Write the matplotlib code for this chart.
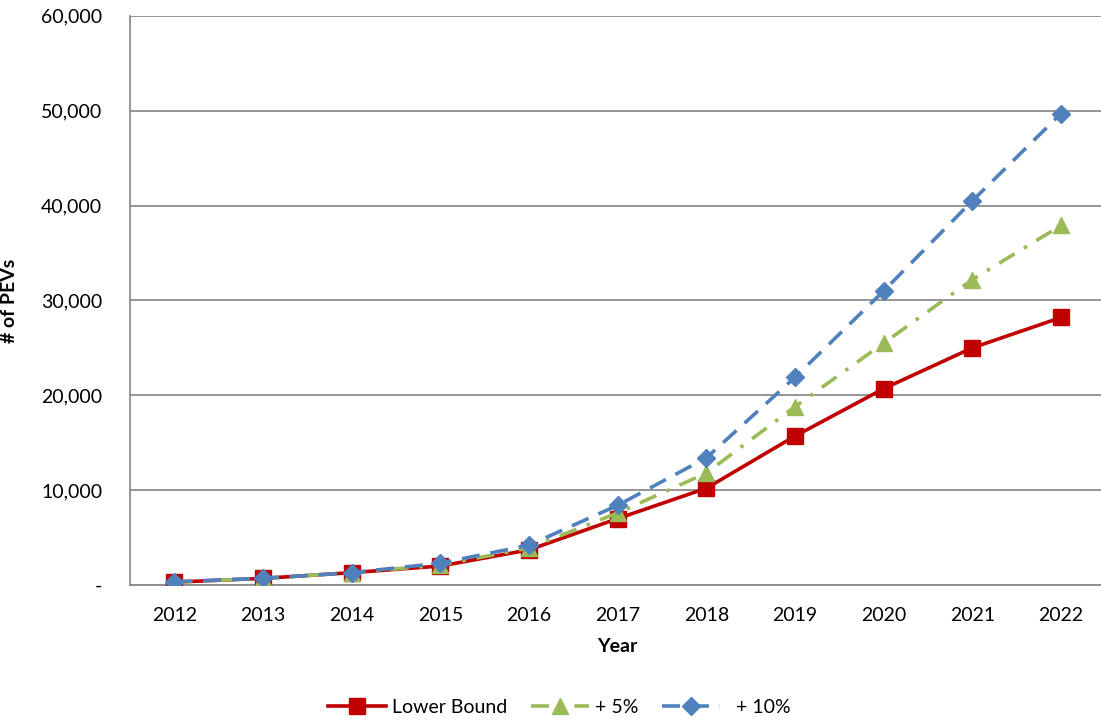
import matplotlib.pyplot as plt
from matplotlib.ticker import FuncFormatter

years = [2012, 2013, 2014, 2015, 2016, 2017, 2018, 2019, 2020, 2021, 2022]
lower_bound = [300, 700, 1300, 2000, 3700, 7000, 10200, 15700, 20700, 25000, 28200]
plus_5 = [300, 700, 1300, 2100, 3900, 7600, 11800, 18800, 25500, 32200, 37900]
plus_10 = [350, 700, 1300, 2300, 4200, 8400, 13400, 21900, 31000, 40500, 49700]

plt.rcParams['font.family'] = ['Lato', 'DejaVu Sans']

fig = plt.figure(figsize=(11.01, 7.2), dpi=100)
ax = fig.add_axes([0.118, 0.1875, 0.886, 0.7905])

x = list(range(len(years)))
ax.plot(x, lower_bound, color='#C00000', lw=2.6, marker='s', ms=11, label='Lower Bound', zorder=3)
ax.plot(x, plus_5, color='#9BBB59', lw=2.6, ls=(0, (5, 3, 1, 3)), marker='^', ms=11,
        label='+ 5%', zorder=4)
ax.plot(x, plus_10, color='#4F81BD', lw=2.6, ls=(0, (5, 3)), marker='D', ms=9,
        label='  + 10%', zorder=5)

ax.set_xlim(-0.5, len(years) - 0.5)
ax.set_ylim(0, 60000)
ax.set_yticks(range(0, 60001, 10000))
ax.yaxis.set_major_formatter(FuncFormatter(lambda v, p: '-' if v == 0 else f'{int(v):,}'))
ax.set_xticks(x)
ax.set_xticklabels([str(y) for y in years])
ax.tick_params(axis='both', length=0, labelsize=14, colors='black')
ax.tick_params(axis='x', pad=16)
ax.tick_params(axis='y', pad=20)

ax.grid(axis='y', color='#8C8C8C', lw=1.3)
ax.set_axisbelow(True)
for s in ['top', 'right']:
    ax.spines[s].set_visible(False)
for s in ['left', 'bottom']:
    ax.spines[s].set_color('#8C8C8C')
    ax.spines[s].set_linewidth(1.3)

ax.set_xlabel('Year', fontsize=14, fontweight='bold', labelpad=10)
ax.set_ylabel('# of PEVs', fontsize=14, fontweight='bold')
ax.yaxis.set_label_coords(-0.115, 0.5)

fig.legend(loc='center', bbox_to_anchor=(0.508, 0.018), ncol=3, frameon=False, fontsize=14,
           handlelength=3.0, columnspacing=1.2, handletextpad=0.3)

fig.savefig('out.png', dpi=100)
